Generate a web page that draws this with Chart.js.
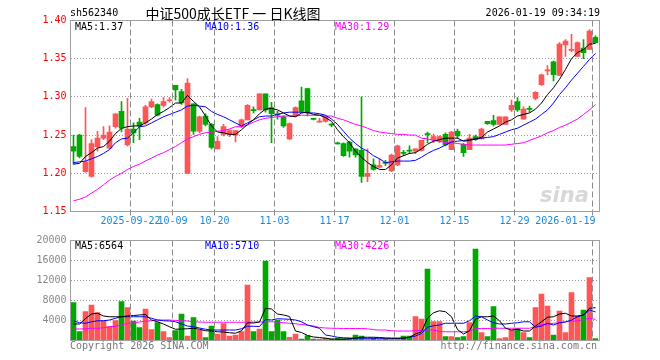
<!DOCTYPE html>
<html>
<head>
<meta charset="utf-8">
<script src="https://cdn.jsdelivr.net/npm/chart.js@4.4.1/dist/chart.umd.min.js"></script>
<style>
  body { margin: 0; background: #fff; }
  #wrap { position: relative; width: 660px; height: 360px; overflow: hidden; font-family: "DejaVu Sans Mono", monospace; font-size: 10px; }
  #wrap canvas { position: absolute; left: 0; }
  .t { position: absolute; white-space: nowrap; line-height: 12px; }
</style>
</head>
<body>
<div id="wrap">
  <canvas id="kChart" width="660" height="235" style="top:0"></canvas>
  <canvas id="volChart" width="660" height="130" style="top:230px"></canvas>

  <div class="t" style="left:70px;top:7px;color:#000">sh562340</div>
  <div class="t" style="left:123px;width:220px;top:5px;line-height:16px;text-align:center;font-family:'Noto Sans CJK SC',sans-serif;font-size:14px;color:#000">中证500成长ETF 一 日K线图</div>
  <div class="t" style="right:60px;top:7px;color:#000">2026-01-19 09:34:19</div>

  <div class="t" style="left:75px;top:21px;color:#000">MA5:1.37</div>
  <div class="t" style="left:205px;top:21px;color:#0000ff">MA10:1.36</div>
  <div class="t" style="left:335px;top:21px;color:#ff00ff">MA30:1.29</div>

  <div class="t" style="left:540px;top:184px;font-family:'DejaVu Sans',sans-serif;font-size:21px;line-height:22px;font-weight:bold;font-style:italic;color:#d8d8d8">sina</div>

  <div class="t" style="left:75px;top:240px;color:#000">MA5:6564</div>
  <div class="t" style="left:205px;top:240px;color:#0000ff">MA10:5710</div>
  <div class="t" style="left:335px;top:240px;color:#ff00ff">MA30:4226</div>

  <div class="t" style="left:70px;top:340px;color:#777">Copyright 2026 SINA.COM</div>
  <div class="t" style="right:63px;top:340px;color:#777">http://finance.sina.com.cn</div>
</div>
<script>
// trading days shown on the chart
const dates = ['2025-09-08','2025-09-09','2025-09-10','2025-09-11','2025-09-12','2025-09-15','2025-09-16','2025-09-17','2025-09-18','2025-09-19',
  '2025-09-22','2025-09-23','2025-09-24','2025-09-25','2025-09-26','2025-09-29','2025-09-30','2025-10-09','2025-10-10','2025-10-13',
  '2025-10-14','2025-10-15','2025-10-16','2025-10-17','2025-10-20','2025-10-21','2025-10-22','2025-10-23','2025-10-24','2025-10-27',
  '2025-10-28','2025-10-29','2025-10-30','2025-10-31','2025-11-03','2025-11-04','2025-11-05','2025-11-06','2025-11-07','2025-11-10',
  '2025-11-11','2025-11-12','2025-11-13','2025-11-14','2025-11-17','2025-11-18','2025-11-19','2025-11-20','2025-11-21','2025-11-24',
  '2025-11-25','2025-11-26','2025-11-27','2025-11-28','2025-12-01','2025-12-02','2025-12-03','2025-12-04','2025-12-05','2025-12-08',
  '2025-12-09','2025-12-10','2025-12-11','2025-12-12','2025-12-15','2025-12-16','2025-12-17','2025-12-18','2025-12-19','2025-12-22',
  '2025-12-23','2025-12-24','2025-12-25','2025-12-26','2025-12-29','2025-12-30','2025-12-31','2026-01-05','2026-01-06','2026-01-07',
  '2026-01-08','2026-01-09','2026-01-12','2026-01-13','2026-01-14','2026-01-15','2026-01-16','2026-01-19'];

const open = [
  1.235,1.250,1.202,1.196,1.235,1.246,1.233,1.261,1.281,1.237,
  1.258,1.267,1.266,1.287,1.290,1.289,1.295,1.315,1.307,1.200,
  1.291,1.255,1.275,1.264,1.232,1.251,1.251,1.250,1.262,1.270,
  1.283,1.283,1.304,1.286,1.278,1.274,1.245,1.275,1.295,1.311,
  1.271,1.267,1.268,1.264,1.240,1.239,1.241,1.232,1.230,1.196,
  1.211,1.208,1.214,1.203,1.211,1.227,1.230,1.229,1.230,1.252,
  1.244,1.242,1.251,1.231,1.255,1.238,1.231,1.248,1.245,1.268,
  1.269,1.264,1.264,1.283,1.294,1.271,1.285,1.298,1.316,1.334,
  1.346,1.328,1.368,1.361,1.353,1.364,1.362,1.378];
const high = [
  1.250,1.251,1.286,1.244,1.255,1.261,1.262,1.278,1.294,1.298,
  1.266,1.272,1.289,1.297,1.291,1.299,1.299,1.315,1.310,1.324,
  1.291,1.275,1.278,1.265,1.248,1.264,1.257,1.256,1.271,1.290,
  1.287,1.304,1.304,1.293,1.281,1.275,1.266,1.287,1.313,1.311,
  1.272,1.272,1.275,1.265,1.241,1.240,1.242,1.232,1.300,1.232,
  1.219,1.219,1.217,1.225,1.237,1.230,1.236,1.232,1.243,1.254,
  1.251,1.249,1.253,1.255,1.258,1.239,1.251,1.250,1.259,1.268,
  1.276,1.274,1.274,1.296,1.299,1.287,1.288,1.307,1.330,1.341,
  1.347,1.371,1.375,1.382,1.372,1.375,1.388,1.380];
const low = [
  1.212,1.220,1.201,1.195,1.229,1.244,1.232,1.259,1.254,1.236,
  1.240,1.244,1.264,1.286,1.275,1.287,1.293,1.296,1.290,1.200,
  1.251,1.253,1.262,1.232,1.232,1.249,1.248,1.241,1.260,1.270,
  1.279,1.283,1.280,1.240,1.271,1.260,1.244,1.274,1.279,1.275,
  1.270,1.267,1.267,1.261,1.238,1.222,1.221,1.221,1.188,1.189,
  1.204,1.207,1.210,1.202,1.210,1.223,1.226,1.226,1.229,1.240,
  1.240,1.240,1.236,1.231,1.246,1.222,1.231,1.243,1.245,1.264,
  1.262,1.264,1.264,1.281,1.281,1.271,1.280,1.296,1.315,1.329,
  1.321,1.328,1.353,1.359,1.353,1.350,1.362,1.371];
const close = [
  1.229,1.222,1.215,1.239,1.246,1.250,1.254,1.278,1.259,1.258,
  1.253,1.262,1.287,1.294,1.276,1.294,1.296,1.309,1.292,1.318,
  1.255,1.274,1.264,1.234,1.242,1.261,1.256,1.256,1.270,1.289,
  1.282,1.304,1.283,1.278,1.276,1.262,1.265,1.286,1.281,1.280,
  1.2705,1.268,1.274,1.263,1.2385,1.223,1.229,1.224,1.196,1.200,
  1.205,1.210,1.213,1.224,1.236,1.226,1.229,1.232,1.243,1.2505,
  1.248,1.248,1.237,1.254,1.249,1.227,1.246,1.244,1.258,1.265,
  1.264,1.274,1.274,1.289,1.283,1.284,1.2835,1.306,1.329,1.3355,
  1.329,1.369,1.373,1.362,1.371,1.358,1.386,1.371];

const ma5 = [
  1.212,1.213,1.222,1.227,1.233,1.235,1.242,1.252,1.259,1.261,
  1.262,1.262,1.266,1.271,1.277,1.281,1.286,1.292,1.292,1.302,
  1.294,1.287,1.275,1.262,1.254,1.253,1.251,1.251,1.257,1.264,
  1.270,1.278,1.284,1.285,1.283,1.279,1.275,1.274,1.279,1.280,
  1.277,1.276,1.273,1.268,1.257,1.248,1.240,1.229,1.221,1.214,
  1.209,1.205,1.205,1.211,1.220,1.223,1.226,1.227,1.232,1.238,
  1.242,1.244,1.246,1.246,1.246,1.242,1.243,1.245,1.247,1.254,
  1.258,1.262,1.267,1.270,1.275,1.277,1.279,1.284,1.292,1.303,
  1.312,1.323,1.336,1.350,1.358,1.362,1.369,1.370];
const ma10 = [
  1.214,1.215,1.216,1.219,1.222,1.226,1.231,1.240,1.245,1.246,
  1.253,1.261,1.262,1.266,1.270,1.274,1.277,1.280,1.283,1.288,
  1.289,1.288,1.287,1.281,1.277,1.274,1.270,1.266,1.262,1.266,
  1.270,1.274,1.275,1.275,1.277,1.279,1.280,1.280,1.280,1.279,
  1.279,1.278,1.276,1.271,1.264,1.255,1.246,1.239,1.233,1.229,
  1.223,1.219,1.214,1.215,1.216,1.216,1.216,1.217,1.221,1.226,
  1.230,1.233,1.237,1.241,1.242,1.243,1.244,1.245,1.246,1.247,
  1.248,1.251,1.254,1.257,1.259,1.263,1.267,1.271,1.277,1.283,
  1.292,1.303,1.312,1.322,1.331,1.340,1.349,1.357];
const ma30 = [
  1.164,1.166,1.169,1.174,1.179,1.185,1.191,1.196,1.200,1.205,
  1.209,1.212,1.216,1.220,1.224,1.227,1.231,1.235,1.240,1.245,
  1.248,1.251,1.253,1.254,1.255,1.256,1.258,1.261,1.261,1.263,
  1.267,1.270,1.272,1.273,1.274,1.275,1.275,1.275,1.276,1.276,
  1.276,1.276,1.275,1.275,1.272,1.270,1.267,1.264,1.262,1.259,
  1.256,1.254,1.253,1.252,1.251,1.251,1.250,1.250,1.246,1.245,
  1.243,1.242,1.240,1.240,1.239,1.238,1.237,1.237,1.237,1.237,
  1.237,1.237,1.237,1.238,1.239,1.240,1.243,1.246,1.249,1.253,
  1.256,1.260,1.263,1.267,1.271,1.277,1.283,1.290];

const volume = [
  7600,1800,5800,7100,5600,4000,2800,4000,7800,6600,
  3900,2600,6300,2200,3600,1800,600,2000,5300,900,
  4600,2100,600,2900,1300,3400,900,1100,1800,11100,
  1800,2300,15900,1800,4100,1800,650,1300,300,950,
  300,300,500,300,500,400,450,1100,900,350,
  450,300,300,300,350,900,900,4800,4300,14300,
  3800,3800,800,800,600,800,3600,18300,1600,800,
  6800,400,600,2100,2400,1600,600,6600,9300,6900,
  1100,5900,1600,9600,4900,6100,12600,400];
const vma5 = [
  3300,3300,4400,5300,5450,4900,4750,4750,4750,4900,
  5000,5100,5200,4100,3750,3300,2750,2250,2300,2350,
  2450,2250,1950,1900,1750,1700,1550,1450,1950,3550,
  3500,3700,6450,6300,5300,5100,4800,1900,1600,1000,
  700,600,450,300,250,250,350,500,650,650,
  650,600,500,450,450,450,650,1300,1750,4450,
  5550,5950,5750,4750,2200,1300,1950,4250,4750,4750,
  4900,3950,2450,2100,2250,1900,1900,2900,3750,4650,
  4750,5300,5450,4900,4900,5100,6450,6564];
const vma10 = [
  3950,3550,3450,3750,3950,3950,4100,4450,4750,4750,
  4750,4750,4750,4450,4100,3950,3900,3750,3300,2900,
  2750,2500,2250,2100,2100,2100,2100,2100,2350,2850,
  2850,2800,4200,4100,4350,4300,4250,4100,3750,3100,
  2750,2450,1100,900,650,550,500,450,450,450,
  450,450,450,450,450,450,650,900,1400,2650,
  2950,3100,3450,3450,3450,3450,3950,4900,4750,4100,
  3550,3300,3300,3450,3550,3750,3750,2650,2900,3450,
  3100,3550,3700,4100,4750,5100,6100,5710];
const vma30 = [
  2300,2300,2350,2450,2450,2550,2750,2850,3100,3400,
  3550,3700,3850,3950,4100,4100,4100,4000,3950,3900,
  3750,3700,3650,3650,3650,3650,3650,3650,3650,3650,
  3700,3700,3750,3750,3700,3550,3450,3350,3200,3050,
  2900,2600,2500,2450,2433,2400,2400,2400,2400,2350,
  2150,2100,2100,1950,1900,1900,1900,1950,2000,2100,
  2100,1800,1750,1750,1750,1750,1850,2400,2400,2400,
  2450,2450,2450,2450,2450,2450,2450,2750,3200,3250,
  3450,3550,3750,3900,3900,4200,4450,4226];

const priceTicks = [1.15, 1.20, 1.25, 1.30, 1.35, 1.40];
const volumeTicks = [0, 4000, 8000, 12000, 16000, 20000];
const xTickDates = ['2025-09-22','2025-10-09','2025-10-20','2025-11-03','2025-11-17','2025-12-01','2025-12-15','2025-12-29','2026-01-19'];
const xTickLabels = ['2025-09-22','10-09','10-20','11-03','11-17','12-01','12-15','12-29','2026-01-19'];

const RED = '#ff5555';
const GREEN = '#00a800';
const MONO = '"DejaVu Sans Mono", monospace';
const candleColors = close.map((c, i) => c >= open[i] ? RED : GREEN);
const gridIdx = xTickDates.map(d => dates.indexOf(d));

// dashed lines of the labelled days, then the grey box round the plot
function makeFrame(tickLen) {
    return {
        id: 'frame',
        afterDraw(chart) {
            const { ctx, chartArea: a } = chart;
            const x = chart.scales.x;
            const half = (x.getPixelForValue(1) - x.getPixelForValue(0)) / 2;
            ctx.save();
            ctx.lineWidth = 1;
            ctx.strokeStyle = '#8c8c8c';
            for (const i of gridIdx) {
                const px = Math.round(x.getPixelForValue(i) - half - 0.5) + 0.5;
                ctx.setLineDash([6, 3]);
                ctx.beginPath();
                ctx.moveTo(px, a.top);
                ctx.lineTo(px, a.bottom);
                ctx.stroke();
                if (tickLen > 0) {
                    ctx.setLineDash([]);
                    ctx.beginPath();
                    ctx.moveTo(px, a.bottom);
                    ctx.lineTo(px, a.bottom + tickLen);
                    ctx.stroke();
                }
            }
            ctx.setLineDash([]);
            ctx.strokeStyle = '#a0a0a0';
            const x0 = Math.floor(a.left) + 0.5;
            const x1 = Math.ceil(a.right) + 0.5;
            ctx.strokeRect(x0, a.top, x1 - x0, a.bottom - a.top);
            ctx.restore();
        }
    };
}

// date labels sit on the dashed lines, the last one is kept inside the box
const dateLabelPlugin = {
    id: 'dateLabels',
    afterDraw(chart) {
        const { ctx, chartArea: a } = chart;
        const x = chart.scales.x;
        const half = (x.getPixelForValue(1) - x.getPixelForValue(0)) / 2;
        ctx.save();
        ctx.font = '10px ' + MONO;
        ctx.fillStyle = '#1a8ad8';
        ctx.textAlign = 'center';
        ctx.textBaseline = 'middle';
        xTickDates.forEach((d, k) => {
            const text = xTickLabels[k];
            const w = ctx.measureText(text).width;
            let cx = x.getPixelForValue(dates.indexOf(d)) - half;
            cx = Math.min(cx, a.right - 3 - w / 2);
            ctx.fillText(text, cx, a.bottom + 10);
        });
        ctx.restore();
    }
};

function xAxis(height) {
    return {
        type: 'category',
        offset: true,
        grid: { display: false },
        border: { display: false },
        ticks: { display: false },
        afterFit: s => { s.height = height; }
    };
}

function yAxis(tickValues, color, fmt) {
    return {
        type: 'linear',
        min: tickValues[0],
        max: tickValues[tickValues.length - 1],
        afterBuildTicks: s => { s.ticks = tickValues.map(v => ({ value: v })); },
        grid: {
            color: c => (c.index === 0 || c.index === tickValues.length - 1) ? 'rgba(0,0,0,0)' : '#999999',
            drawTicks: false
        },
        border: { display: false, dash: [1, 2] },
        ticks: { color: color, font: { family: MONO, size: 10 }, padding: 4, callback: fmt },
        afterFit: s => { s.width = 70.5; }
    };
}

function maLine(data, color) {
    return { type: 'line', data: data, borderColor: color, borderWidth: 1, pointRadius: 0, tension: 0, order: 0 };
}

const common = {
    responsive: false,
    devicePixelRatio: 1,
    animation: false,
    events: [],
    datasets: { bar: { grouped: false } },
    plugins: { legend: { display: false }, tooltip: { enabled: false } }
};

new Chart(document.getElementById('kChart'), {
    type: 'bar',
    data: {
        labels: dates,
        datasets: [
            maLine(ma5, '#000000'),
            maLine(ma10, '#0000ff'),
            maLine(ma30, '#ff00ff'),
            {
                data: low.map((l, i) => [l, high[i]]),
                backgroundColor: candleColors,
                barThickness: 1,
                order: 2
            },
            {
                data: open.map((o, i) => [o, close[i]]),
                backgroundColor: candleColors,
                barThickness: 5,
                minBarLength: 1,
                order: 1
            }
        ]
    },
    options: {
        ...common,
        layout: { padding: { top: 20.5, right: 61.5, left: 0, bottom: 0 } },
        scales: {
            x: xAxis(23.5),
            y: yAxis(priceTicks, '#ff0000', v => v.toFixed(2))
        }
    },
    plugins: [makeFrame(4), dateLabelPlugin]
});

new Chart(document.getElementById('volChart'), {
    type: 'bar',
    data: {
        labels: dates,
        datasets: [
            maLine(vma5, '#000000'),
            maLine(vma10, '#0000ff'),
            maLine(vma30, '#ff00ff'),
            {
                data: volume,
                backgroundColor: candleColors,
                barThickness: 5,
                order: 1
            }
        ]
    },
    options: {
        ...common,
        layout: { padding: { top: 10.5, right: 61.5, left: 0, bottom: 0 } },
        scales: {
            x: xAxis(19.5),
            y: yAxis(volumeTicks, '#888888', v => v === 0 ? '' : String(v))
        }
    },
    plugins: [makeFrame(0)]
});
</script>
</body>
</html>
